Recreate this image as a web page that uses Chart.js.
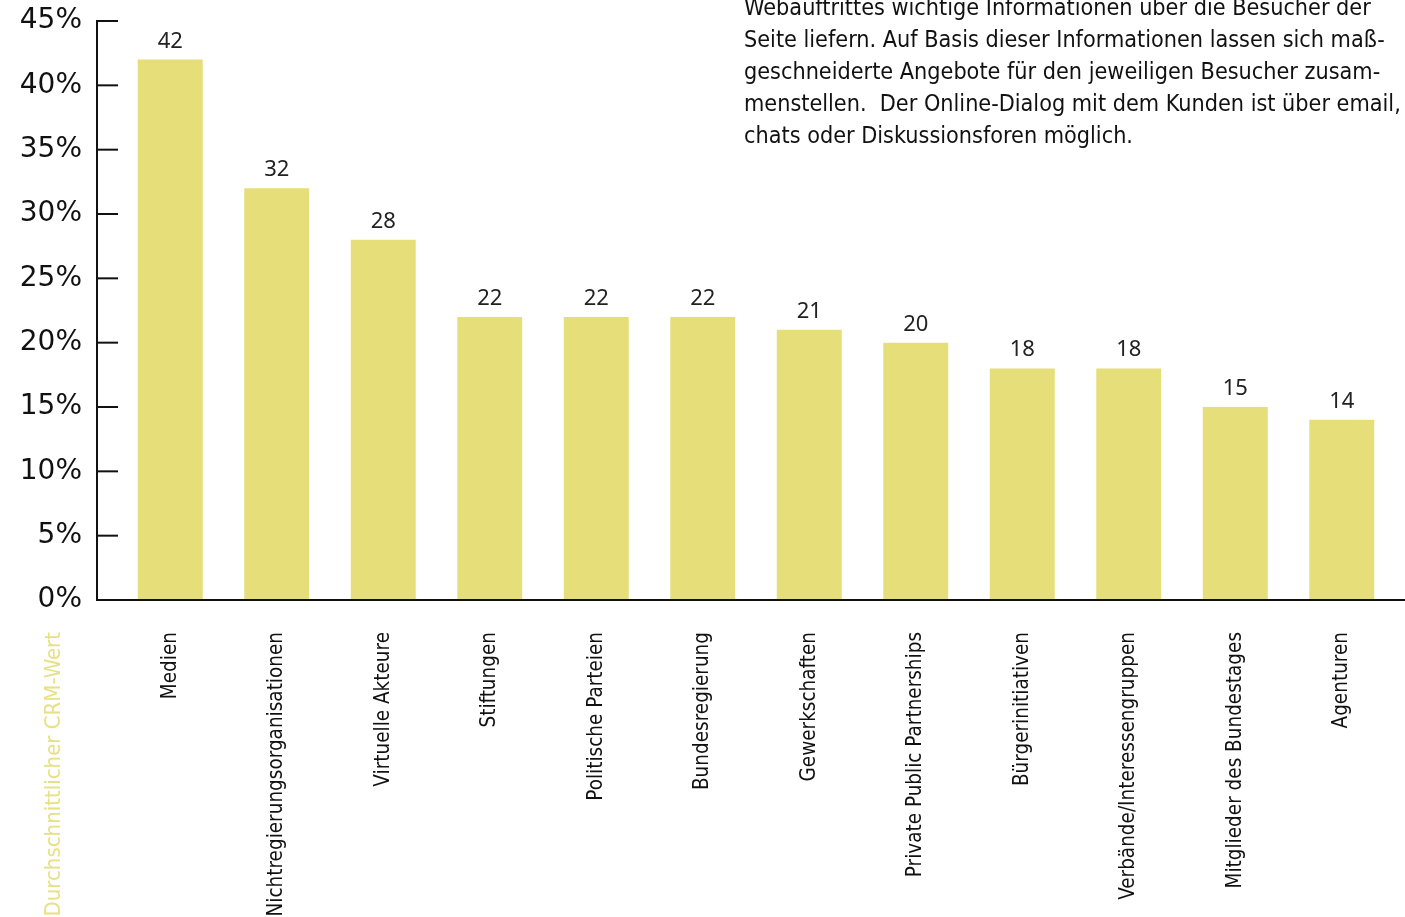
<!DOCTYPE html>
<html>
<head>
<meta charset="utf-8">
<script src="https://cdn.jsdelivr.net/npm/chart.js@4.4.1/dist/chart.umd.min.js"></script>
<style>
  html, body { margin: 0; padding: 0; background: #fff; overflow: hidden; }
  #wrap { position: relative; width: 1405px; height: 917px; }
  #note { position: absolute; left: 744px; top: -9px; font-family: "DejaVu Sans Condensed", "DejaVu Sans", sans-serif;
          font-size: 23.2px; line-height: 32px; color: #111; white-space: pre; }
</style>
</head>
<body>
<div id="wrap">
  <canvas id="c" width="1405" height="917"></canvas>
  <div id="note">Webauftrittes wichtige Informationen über die Besucher der
Seite liefern. Auf Basis dieser Informationen lassen sich maß-
geschneiderte Angebote für den jeweiligen Besucher zusam-
menstellen.  Der Online-Dialog mit dem Kunden ist über email,
chats oder Diskussionsforen möglich.</div>
</div>
<script>
const categories = ["Medien", "Nichtregierungsorganisationen", "Virtuelle Akteure", "Stiftungen", "Politische Parteien", "Bundesregierung", "Gewerkschaften", "Private Public Partnerships", "Bürgerinitiativen", "Verbände/Interessengruppen", "Mitglieder des Bundestages", "Agenturen"];
const values = [42, 32, 28, 22, 22, 22, 21, 20, 18, 18, 15, 14];
const yTicks = [0, 5, 10, 15, 20, 25, 30, 35, 40, 45];
const yTitle = "Durchschnittlicher CRM-Wert";

const barColor = "#e6de78";

const customDraw = {
  id: "customDraw",
  afterDatasetsDraw(chart) {
    const ctx = chart.ctx;
    const y = chart.scales.y;
    const area = chart.chartArea;
    const axisX = area.left - 20;
    ctx.save();
    ctx.strokeStyle = "#111";
    ctx.lineWidth = 2;
    ctx.beginPath();
    ctx.moveTo(axisX, y.getPixelForValue(45) - 1);
    ctx.lineTo(axisX, y.getPixelForValue(0));
    ctx.stroke();
    yTicks.forEach(v => {
      const py = y.getPixelForValue(v);
      ctx.beginPath();
      ctx.moveTo(axisX, py);
      ctx.lineTo(area.left + 1, py);
      ctx.stroke();
    });
    ctx.beginPath();
    ctx.moveTo(axisX - 1, y.getPixelForValue(0));
    ctx.lineTo(chart.width, y.getPixelForValue(0));
    ctx.stroke();
    const meta = chart.getDatasetMeta(0);
    ctx.fillStyle = "#222";
    ctx.font = "22px 'Noto Sans', sans-serif";
    ctx.textAlign = "center";
    ctx.textBaseline = "alphabetic";
    meta.data.forEach((bar, i) => {
      ctx.fillText(String(values[i]), bar.x, bar.y - 12);
    });
    ctx.translate(60, 632);
    ctx.rotate(-Math.PI / 2);
    ctx.fillStyle = "#e8e084";
    ctx.font = "22px 'DejaVu Sans Condensed', 'DejaVu Sans', sans-serif";
    ctx.textAlign = "right";
    ctx.textBaseline = "alphabetic";
    ctx.fillText(yTitle, 0, 0);
    ctx.restore();
  }
};

new Chart(document.getElementById("c"), {
  type: "bar",
  data: {
    labels: categories,
    datasets: [{ data: values, backgroundColor: barColor, borderWidth: 0, barPercentage: 0.61, categoryPercentage: 1 }]
  },
  options: {
    responsive: false,
    animation: false,
    events: [],
    layout: { padding: { top: 21, right: 10, left: 0, bottom: 0 } },
    plugins: { legend: { display: false }, tooltip: { enabled: false } },
    scales: {
      x: {
        grid: { display: false, drawTicks: false },
        border: { display: false },
        ticks: {
          autoSkip: false, minRotation: 90, maxRotation: 90, padding: 32,
          color: "#111", font: { family: "'DejaVu Sans Condensed', 'DejaVu Sans', sans-serif", size: 20.5 }
        },
        afterFit(scale) { scale.height = 317; scale.paddingLeft = 0; scale.paddingRight = 0; }
      },
      y: {
        min: 0, max: 45,
        grid: { display: false, drawTicks: false },
        border: { display: false },
        afterBuildTicks(scale) { scale.ticks = yTicks.map(v => ({ value: v })); },
        ticks: {
          padding: 35, color: "#111",
          font: { family: "'DejaVu Sans', sans-serif", size: 28 },
          callback: v => v + "%"
        },
        afterFit(scale) { scale.width = 117; scale.paddingTop = 0; scale.paddingBottom = 0; }
      }
    }
  },
  plugins: [customDraw]
});
</script>
</body>
</html>
